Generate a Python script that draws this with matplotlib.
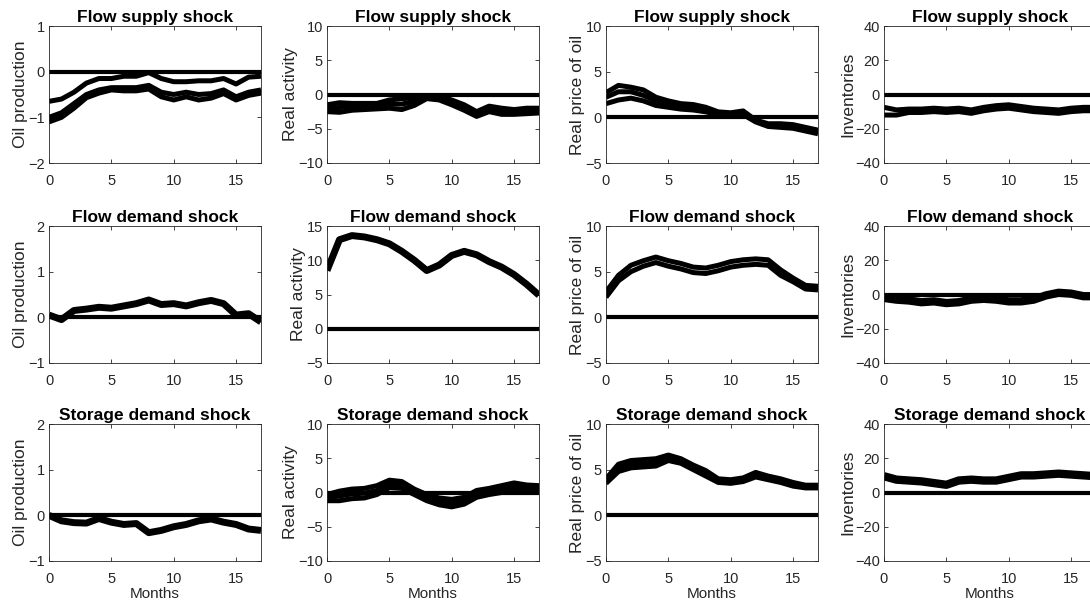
import numpy as np
import matplotlib
matplotlib.use("Agg")
import matplotlib.pyplot as plt

plt.rcParams['font.family'] = ['Liberation Sans', 'DejaVu Sans']

months = np.arange(18)

row_titles = ["Flow supply shock", "Flow demand shock", "Storage demand shock"]
col_labels = ["Oil production", "Real activity", "Real price of oil", "Inventories"]
col_ylims = [None, None, [-5, 10], [-40, 40]]
prod_ylims = [[-2, 1], [-1, 2], [-1, 2]]
act_ylims = [[-10, 10], [-5, 15], [-10, 10]]

# Flow supply shock
fs_prod_a = [-0.65, -0.6, -0.45, -0.25, -0.15, -0.15, -0.1, -0.1, -0.02, -0.15, -0.22, -0.22, -0.2, -0.2, -0.15, -0.27, -0.12, -0.1]
fs_prod_b = [-1.0, -0.9, -0.7, -0.5, -0.4, -0.35, -0.35, -0.35, -0.3, -0.45, -0.5, -0.45, -0.5, -0.48, -0.4, -0.55, -0.45, -0.4]
fs_prod_c = [-1.1, -1.0, -0.8, -0.57, -0.47, -0.4, -0.42, -0.42, -0.38, -0.55, -0.62, -0.55, -0.62, -0.58, -0.48, -0.62, -0.52, -0.47]

fs_act_a = [-1.5, -1.2, -1.3, -1.3, -1.3, -0.8, -0.6, -0.5, -0.3, -0.3, -0.8, -1.5, -2.5, -1.7, -2.0, -2.2, -2.0, -2.0]
fs_act_b = [-2.0, -1.9, -1.8, -1.7, -1.7, -1.4, -1.4, -1.0, -0.4, -0.5, -1.1, -1.9, -2.8, -2.1, -2.4, -2.5, -2.4, -2.3]
fs_act_c = [-2.5, -2.6, -2.3, -2.2, -2.1, -2.0, -2.2, -1.6, -0.6, -0.8, -1.5, -2.3, -3.2, -2.5, -2.9, -2.9, -2.8, -2.7]

fs_price_a = [2.7, 3.5, 3.3, 3.0, 2.2, 1.8, 1.5, 1.4, 1.1, 0.6, 0.5, 0.7, -0.3, -0.7, -0.7, -0.8, -1.1, -1.4]
fs_price_b = [2.2, 2.8, 2.8, 2.4, 1.8, 1.5, 1.2, 1.1, 0.8, 0.4, 0.35, 0.5, -0.4, -0.85, -0.9, -1.0, -1.3, -1.6]
fs_price_c = [1.5, 1.9, 2.1, 1.8, 1.3, 1.1, 0.9, 0.8, 0.6, 0.3, 0.2, 0.3, -0.5, -1.0, -1.1, -1.2, -1.5, -1.8]

fs_inv_a = [-7.5, -9.0, -8.5, -8.5, -8.0, -8.5, -8.0, -9.0, -7.5, -6.5, -6.0, -7.0, -8.0, -8.5, -9.0, -8.0, -7.5, -7.5]
fs_inv_b = [-12.0, -12.0, -10.5, -10.5, -10.0, -10.5, -10.0, -11.0, -9.5, -8.5, -8.0, -9.0, -10.0, -10.5, -11.0, -10.0, -9.5, -9.5]

# Flow demand shock
fd_prod = [0.05, -0.05, 0.15, 0.18, 0.22, 0.2, 0.25, 0.3, 0.38, 0.28, 0.3, 0.25, 0.32, 0.37, 0.3, 0.05, 0.08, -0.1]
fd_act = [8.5, 13.0, 13.6, 13.4, 13.0, 12.4, 11.3, 10.0, 8.5, 9.3, 10.7, 11.3, 10.8, 9.8, 9.0, 7.9, 6.5, 4.9]
fd_price_a = [2.8, 4.6, 5.7, 6.2, 6.6, 6.2, 5.9, 5.5, 5.4, 5.7, 6.1, 6.3, 6.4, 6.3, 5.2, 4.3, 3.5, 3.4]
fd_price_b = [2.2, 4.0, 5.0, 5.6, 6.0, 5.6, 5.3, 4.9, 4.8, 5.1, 5.5, 5.7, 5.8, 5.7, 4.6, 3.9, 3.1, 3.0]
fd_inv = [-2.0, -3.0, -3.5, -4.5, -4.0, -5.0, -4.5, -3.0, -2.5, -3.0, -4.0, -4.0, -3.0, -0.5, 1.0, 0.5, -1.0, -1.0]

# Storage demand shock
sd_prod = [0.0, -0.12, -0.16, -0.17, -0.07, -0.15, -0.2, -0.18, -0.38, -0.33, -0.25, -0.2, -0.12, -0.08, -0.15, -0.2, -0.3, -0.33]
sd_act_a = [-0.3, 0.2, 0.5, 0.6, 1.0, 1.8, 1.6, 0.5, -0.3, -0.8, -1.0, -0.7, 0.3, 0.6, 1.0, 1.4, 1.1, 1.0]
sd_act_b = [-0.7, -0.5, -0.2, -0.1, 0.3, 1.2, 1.1, 0.1, -0.8, -1.3, -1.5, -1.2, -0.2, 0.1, 0.5, 0.8, 0.6, 0.6]
sd_act_c = [-1.2, -1.2, -0.9, -0.8, -0.3, 0.7, 0.6, -0.3, -1.2, -1.8, -2.1, -1.7, -0.7, -0.3, 0.0, 0.3, 0.2, 0.2]
sd_price_a = [4.0, 5.6, 6.0, 6.1, 6.2, 6.6, 6.2, 5.5, 4.9, 4.0, 3.9, 4.1, 4.7, 4.3, 4.0, 3.6, 3.3, 3.3]
sd_price_b = [3.8, 5.2, 5.6, 5.7, 5.8, 6.3, 6.0, 5.2, 4.6, 3.8, 3.7, 3.9, 4.45, 4.1, 3.8, 3.4, 3.15, 3.15]
sd_price_c = [3.5, 4.8, 5.2, 5.3, 5.4, 6.0, 5.7, 5.0, 4.3, 3.6, 3.5, 3.7, 4.2, 3.9, 3.6, 3.2, 3.0, 3.0]
sd_inv = [9.5, 7.5, 7.0, 6.5, 5.5, 4.5, 7.0, 7.5, 7.0, 7.0, 8.5, 10.0, 10.0, 10.5, 11.0, 10.5, 10.0, 9.5]

panels = [
    [[fs_prod_a, fs_prod_b, fs_prod_c], [fs_act_a, fs_act_b, fs_act_c],
     [fs_price_a, fs_price_b, fs_price_c], [fs_inv_a, fs_inv_b]],
    [[fd_prod], [fd_act], [fd_price_a, fd_price_b], [fd_inv]],
    [[sd_prod], [sd_act_a, sd_act_b, sd_act_c], [sd_price_a, sd_price_b, sd_price_c], [sd_inv]],
]

W, H = 1090, 605
fig = plt.figure(figsize=(W / 100, H / 100), dpi=100)

col_left = [49, 327, 606, 884]
row_top = [26, 226, 424]
aw, ah = 212, 137
txt = '#262626'

for r in range(3):
    for c in range(4):
        ax = fig.add_axes([col_left[c] / W, 1 - (row_top[r] + ah) / H, aw / W, ah / H])
        series = panels[r][c]
        lw = 3.6 if len(series) > 1 else 5.0
        if c == 3 and len(series) == 1:
            lw = 6.0
        for s in series:
            ax.plot(months, s, color='black', lw=lw, solid_joinstyle='round', solid_capstyle='butt')
        ax.axhline(0, color='black', lw=3.0)
        ax.set_xlim(0, 17)
        if c == 0:
            ax.set_ylim(*prod_ylims[r])
        elif c == 1:
            ax.set_ylim(*act_ylims[r])
        else:
            ax.set_ylim(*col_ylims[c])
        ax.set_xticks([0, 5, 10, 15])
        ax.tick_params(direction='in', top=True, right=True, length=3, width=0.6,
                       labelsize=10.5, colors=txt, labelcolor=txt)
        ax.tick_params(axis='x', pad=8)
        ax.tick_params(axis='y', pad=3)
        for sp in ax.spines.values():
            sp.set_color(txt)
            sp.set_linewidth(0.6)
        ax.set_title(row_titles[r], fontsize=12.5, fontweight='bold', pad=3)
        ax.set_ylabel(col_labels[c], fontsize=12.5, color=txt, labelpad=0)
        if r == 2:
            ax.set_xlabel("Months", fontsize=11, color=txt, labelpad=1)

fig.savefig("out.png", dpi=100)
